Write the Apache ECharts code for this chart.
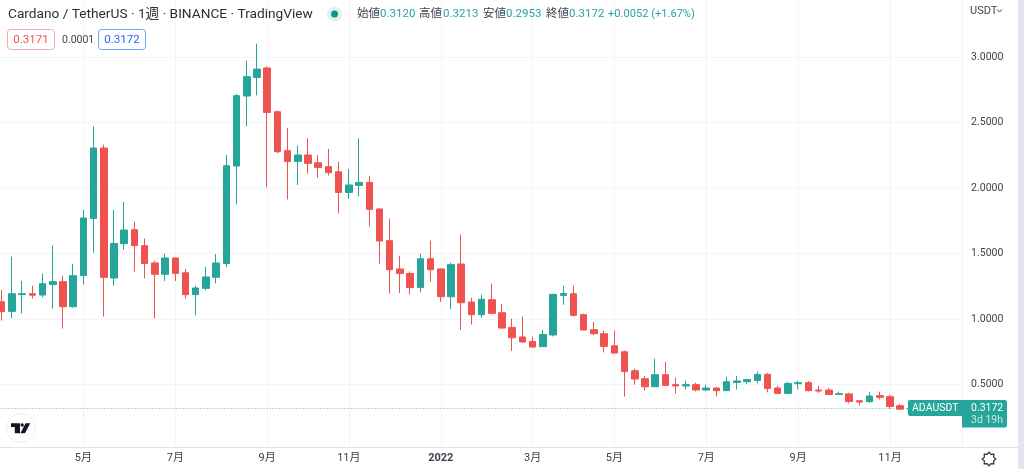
<!DOCTYPE html>
<html><head><meta charset="utf-8">
<style>html,body{margin:0;padding:0;background:#fff}#c{width:1024px;height:469px}</style>
<script src="https://cdn.jsdelivr.net/npm/echarts@6/dist/echarts.min.js"></script>
</head><body><div id="c"></div>
<script>
const weeks = ['2021-03-08','2021-03-15','2021-03-22','2021-03-29','2021-04-05','2021-04-12','2021-04-19','2021-04-26','2021-05-03','2021-05-10',
'2021-05-17','2021-05-24','2021-05-31','2021-06-07','2021-06-14','2021-06-21','2021-06-28','2021-07-05','2021-07-12','2021-07-19',
'2021-07-26','2021-08-02','2021-08-09','2021-08-16','2021-08-23','2021-08-30','2021-09-06','2021-09-13','2021-09-20','2021-09-27',
'2021-10-04','2021-10-11','2021-10-18','2021-10-25','2021-11-01','2021-11-08','2021-11-15','2021-11-22','2021-11-29','2021-12-06',
'2021-12-13','2021-12-20','2021-12-27','2022-01-03','2022-01-10','2022-01-17','2022-01-24','2022-01-31','2022-02-07','2022-02-14',
'2022-02-21','2022-02-28','2022-03-07','2022-03-14','2022-03-21','2022-03-28','2022-04-04','2022-04-11','2022-04-18','2022-04-25',
'2022-05-02','2022-05-09','2022-05-16','2022-05-23','2022-05-30','2022-06-06','2022-06-13','2022-06-20','2022-06-27','2022-07-04',
'2022-07-11','2022-07-18','2022-07-25','2022-08-01','2022-08-08','2022-08-15','2022-08-22','2022-08-29','2022-09-05','2022-09-12',
'2022-09-19','2022-09-26','2022-10-03','2022-10-10','2022-10-17','2022-10-24','2022-10-31','2022-11-07','2022-11-14','2022-11-21',
'2022-11-28','2022-12-05','2022-12-12','2022-12-19','2022-12-26'];
const opens = [1.132,1.058,1.186,1.193,1.183,1.264,1.285,1.094,1.331,1.768,
2.305,1.313,1.575,1.682,1.560,1.428,1.341,1.466,1.353,1.186,
1.234,1.318,1.424,2.168,2.702,2.844,2.916,2.582,2.285,2.203,
2.252,2.193,2.163,2.124,1.966,2.020,2.043,1.840,1.598,1.382,
1.348,1.241,1.460,1.382,1.170,1.420,1.130,1.033,1.147,1.048,
0.936,0.863,0.829,0.789,0.878,1.180,1.193,1.033,0.918,0.888,
0.796,0.750,0.605,0.544,0.483,0.575,0.499,0.489,0.499,0.458,
0.473,0.453,0.516,0.521,0.531,0.577,0.473,0.432,0.506,0.514,
0.458,0.458,0.424,0.428,0.376,0.369,0.415,0.407,0.338,0.3120];
const closes = [1.056,1.193,1.193,1.182,1.270,1.285,1.094,1.331,1.771,2.305,
1.318,1.577,1.679,1.560,1.424,1.341,1.466,1.348,1.186,1.237,
1.321,1.428,2.170,2.705,2.850,2.908,2.577,2.277,2.203,2.252,
2.188,2.157,2.117,1.966,2.023,2.043,1.837,1.595,1.376,1.348,
1.241,1.460,1.376,1.170,1.415,1.124,1.033,1.150,1.043,0.931,
0.857,0.824,0.786,0.882,1.188,1.195,1.028,0.916,0.888,0.791,
0.740,0.600,0.542,0.483,0.575,0.493,0.489,0.499,0.458,0.473,
0.453,0.521,0.527,0.537,0.577,0.470,0.432,0.508,0.514,0.453,
0.450,0.424,0.430,0.371,0.366,0.412,0.402,0.333,0.312,0.3172];
const lows = [0.987,1.005,1.043,1.155,1.165,1.079,0.926,1.086,1.262,1.506,
1.018,1.254,1.529,1.361,1.310,1.005,1.290,1.290,1.155,1.028,
1.218,1.272,1.397,1.875,2.470,2.707,2.005,2.264,1.913,2.023,
2.111,2.076,2.096,1.806,1.916,1.936,1.705,1.422,1.193,1.198,
1.186,1.203,1.285,1.130,1.076,0.918,0.957,1.010,1.035,0.926,
0.756,0.821,0.781,0.786,0.867,1.109,1.020,0.913,0.878,0.745,
0.735,0.407,0.499,0.453,0.483,0.493,0.430,0.463,0.447,0.453,
0.407,0.453,0.463,0.504,0.508,0.440,0.432,0.432,0.463,0.447,
0.437,0.422,0.422,0.356,0.340,0.361,0.386,0.315,0.308,0.2953];
const highs = [1.224,1.476,1.292,1.254,1.348,1.560,1.331,1.422,1.834,2.470,
2.331,1.834,1.895,1.743,1.615,1.445,1.499,1.468,1.382,1.254,
1.399,1.496,2.252,2.718,2.972,3.102,2.928,2.592,2.460,2.325,
2.379,2.252,2.298,2.201,2.145,2.379,2.094,1.844,1.766,1.483,
1.363,1.499,1.598,1.385,1.430,1.644,1.163,1.186,1.270,1.117,
1.002,1.018,0.867,0.918,1.193,1.254,1.254,1.041,0.979,0.911,
0.911,0.760,0.621,0.567,0.697,0.674,0.554,0.529,0.514,0.499,
0.478,0.560,0.565,0.544,0.600,0.588,0.491,0.521,0.529,0.527,
0.491,0.473,0.445,0.437,0.382,0.445,0.445,0.422,0.353,0.3213];
const tickLabels = {'2021-05-03':'5月','2021-07-05':'7月','2021-09-06':'9月','2021-11-01':'11月','2022-01-03':'2022',
'2022-03-07':'3月','2022-05-02':'5月','2022-07-04':'7月','2022-09-05':'9月','2022-11-07':'11月'};
const lastPrice = 0.3172;

const GREEN='#26a69a', RED='#ef5350', GRID='#f2f4f9', BORDER='#e0e3eb', TXT='#3f4350';
const FONT='Roboto, "Noto Sans CJK JP", sans-serif';
const txt=(x,y,text,fill,size,extra)=>Object.assign({type:'text',x,y,z:100,style:Object.assign({text,fill,font:size+'px '+FONT,textVerticalAlign:'middle'},extra||{})});
const rect=(x,y,w,h,fill,stroke,r)=>({type:'rect',z:90,shape:{x,y,width:w,height:h,r:r||0},style:{fill,stroke:stroke||null,lineWidth:1}});
const line=(x1,y1,x2,y2,stroke)=>({type:'line',z:80,shape:{x1,y1,x2,y2},style:{stroke,lineWidth:1}});
const gearPts=[];for(let k=0;k<16;k++){const a=k*Math.PI/8,r=k%2?5:6.8;gearPts.push([989+r*Math.cos(a),459+r*Math.sin(a)]);}

const graphic=[
 rect(963,0,5,447,'#fff'),
 line(962.5,0,962.5,447,GRID),
 line(0,447.5,1018,447.5,BORDER),
 rect(1018,0,6,469,'#e2e4f0'),
 txt(8,14.5,'Cardano / TetherUS · 1週 · BINANCE · TradingView','#2a2e39',13.7),
 {type:'circle',z:90,shape:{cx:334.5,cy:14,r:7.5},style:{fill:'#dff2ef'}},
 {type:'circle',z:91,shape:{cx:334.5,cy:14,r:3.5},style:{fill:'#089981'}},
 txt(357,14.5,'始値',TXT,11.5),txt(380,14.5,'0.3120',GREEN,11.5),
 txt(419,14.5,'高値',TXT,11.5),txt(443,14.5,'0.3213',GREEN,11.5),
 txt(483,14.5,'安値',TXT,11.5),txt(506,14.5,'0.2953',GREEN,11.5),
 txt(546,14.5,'終値',TXT,11.5),txt(569,14.5,'0.3172',GREEN,11.5),
 txt(608,14.5,'+0.0052 (+1.67%)',GREEN,11.1),
 rect(7.5,29.5,47,20,'#fff','#f7a9ac',3),
 txt(31,40,'0.3171',RED,11.5,{textAlign:'center'}),
 txt(62,40,'0.0001',TXT,10.5),
 rect(98.5,29.5,47,20,'#fff','#7b9dfb',3),
 txt(122,40,'0.3172','#2962ff',11.5,{textAlign:'center'}),
 txt(970,11,'USDT',TXT,11),
 {type:'polyline',z:90,shape:{points:[[997,9.5],[999.5,12],[1002,9.5]]},style:{stroke:TXT,lineWidth:1,fill:null}},
 rect(908,400,54,16,GREEN,null,[2,0,0,2]),
 txt(912,408.5,'ADAUSDT','#fff',10.5),
 rect(962,400,45,27.5,GREEN,null,[0,2,2,0]),
 txt(971,408.5,'0.3172','#fff',10.5),
 txt(971,420,'3d 19h','#c8e8e4',10.5),
 {type:'polygon',z:90,shape:{points:gearPts},style:{fill:'#fff',stroke:'#2a2e39',lineWidth:1.2}},
 {type:'circle',z:90,shape:{cx:21,cy:428,r:14.5},style:{fill:'#fff',stroke:'#eceef2',lineWidth:1}},
 {type:'polygon',z:91,shape:{points:[[11,423.3],[20,423.3],[20,433.3],[14.8,433.3],[14.8,427],[11,427]]},style:{fill:'#131722'}},
 {type:'circle',z:91,shape:{cx:22.2,cy:425,r:1.7},style:{fill:'#131722'}},
 {type:'polygon',z:91,shape:{points:[[25.5,423.3],[30.2,423.3],[25,433.3],[20.4,433.3]]},style:{fill:'#131722'}}
];

const chart=echarts.init(document.getElementById('c'),null,{renderer:'canvas'});
chart.setOption({
 animation:false,
 backgroundColor:'#fff',
 grid:{left:-3.4,top:-8.5,width:970,height:458.5,containLabel:false,outerBoundsMode:'none'},
 xAxis:{type:'category',data:weeks,boundaryGap:true,
  axisLine:{show:false},axisTick:{show:false},splitLine:{show:false},
  axisLabel:{margin:3,fontSize:11,fontFamily:FONT,color:TXT,hideOverlap:false,
   interval:(i,v)=>v in tickLabels,
   formatter:v=>{const t=tickLabels[v]||'';return t==='2022'?'{b|2022}':t;},
   rich:{b:{fontWeight:'bold',fontSize:11,fontFamily:FONT,color:TXT}}}},
 yAxis:{type:'value',position:'right',min:0,max:3.5,interval:0.5,
  axisLine:{show:false},axisTick:{show:false},
  splitLine:{show:true,showMinLine:false,showMaxLine:false,lineStyle:{color:GRID,width:1}},
  axisLabel:{margin:4.5,fontSize:10.5,fontFamily:FONT,color:TXT,align:'left',showMinLabel:false,showMaxLabel:false,
   padding:[1,0,0,0],formatter:v=>v.toFixed(4)}},
 series:[
  {type:'line',z:1,data:weeks.map(()=>null),silent:true,showSymbol:false,
   markLine:{z:0,silent:true,symbol:'none',animation:false,label:{show:false},
    lineStyle:{color:GRID,width:1,type:'solid'},
    data:Object.keys(tickLabels).map(d=>[{coord:[d,0.03]},{coord:[d,3.5]}])}},
  {type:'candlestick',z:3,barWidth:7,
   data:opens.map((o,i)=>[o,closes[i],lows[i],highs[i]]),
   itemStyle:{color:GREEN,color0:RED,borderColor:GREEN,borderColor0:RED,borderWidth:1},
   markLine:{z:2,silent:true,symbol:'none',animation:false,label:{show:false},
    lineStyle:{color:GREEN,width:1,type:[1,2],opacity:0.75},
    data:[{yAxis:lastPrice}]}}
 ],
 graphic:{elements:graphic}
});
</script></body></html>
